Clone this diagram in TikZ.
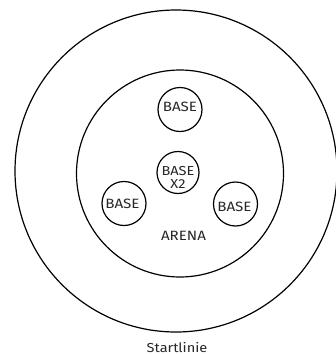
\documentclass[tikz,border=0pt]{standalone}
\usepackage{fontspec}
\setmainfont{Fira Sans}[FakeStretch=1.12]
\begin{document}
\begin{tikzpicture}[x=1pt,y=-1pt,
  ring/.style={draw=black, line width=1.2pt, circle},
  lbl/.style={font=\fontsize{13.5}{12}\selectfont, text=black!85, inner sep=0pt, anchor=base},
  basec/.style={draw=black, line width=1.2pt, circle, minimum size=44pt, inner sep=0pt}]
\useasboundingbox (0,0) rectangle (336,354);
\node[ring, minimum size=322pt, inner sep=0pt] (outer) at (176,171) {};
\node[ring, minimum size=207pt, inner sep=0pt] (inner) at (180,173.5) {};
\node[basec] (btop) at (180,109.5) {};
\node[lbl] (ttop) at (180,111.3) {BASE};
\node[basec, minimum size=42pt] (bmid) at (178,172.5) {};
\node[lbl, font=\fontsize{13}{12}\selectfont] (tmid) at (178,175.8) {BASE};
\node[lbl, font=\fontsize{13}{12}\selectfont] (tx2) at (178,188.6) {X2};
\node[basec] (bleft) at (124,203.5) {};
\node[lbl] (tleft) at (122.5,208.3) {BASE};
\node[basec] (bright) at (235.5,204) {};
\node[lbl] (tright) at (234.5,211.5) {BASE};
\node[lbl] (arena) at (183.5,240.5) {ARENA};
\node[lbl, font=\fontsize{13}{12}\selectfont] (start) at (177,352) {Startlinie};
\end{tikzpicture}
\end{document}
